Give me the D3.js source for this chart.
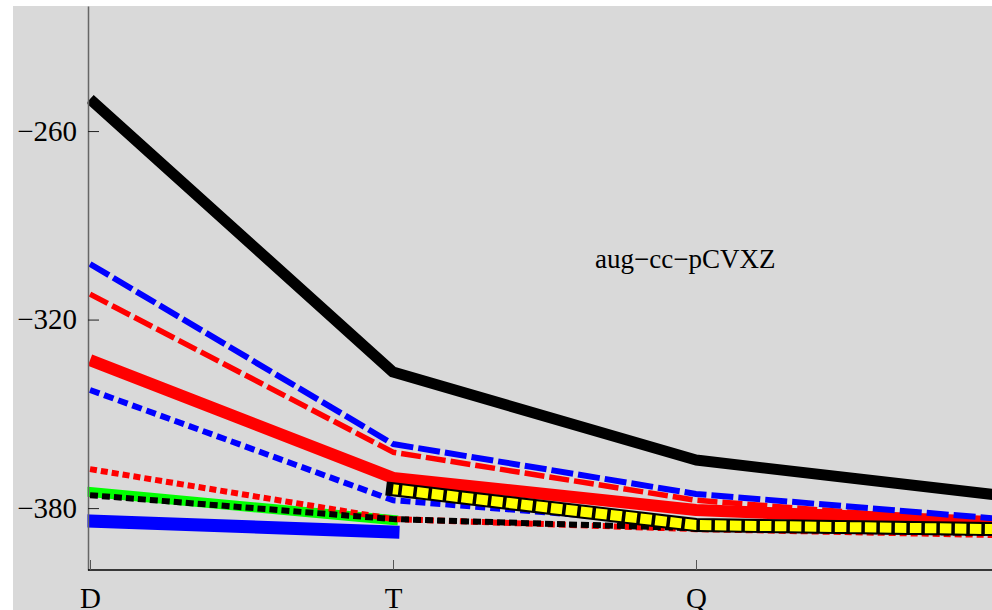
<!DOCTYPE html>
<html lang="en">
<head>
    <meta charset="UTF-8">
    <title>aug-cc-pCVXZ</title>
    <style>
        body{
            margin: 0;
            background: #fff;
        }
        svg{
            display: block;
        }
        .axis text{
            font-family: "Liberation Serif", serif;
            font-size: 29px;
            fill: #000;
        }
        .y .domain{
            stroke: #666;
            stroke-width: 1.5px;
        }
        .x .domain{
            stroke: #000;
            stroke-width: 1.3px;
        }
        .y .tick line{
            stroke: #222;
        }
        .x .tick line{
            stroke: #555;
        }
        .series{
            fill: none;
        }
        .label{
            font-family: "Liberation Serif", serif;
            font-size: 27px;
        }
    </style>
    <script src="https://cdn.jsdelivr.net/npm/d3@7"></script>
</head>
<body>
<script>

    // basis set cardinal numbers (5 lies just past the right edge)
    const categories = ["D", "T", "Q", "5"];
    const xTickLabels = ["D", "T", "Q"];
    const yTicks = [-260, -320, -380];

    // values, null = not computed
    const blackSolid   = [-249.8, -336.7, -364.7, -375.9];
    const redSolid     = [-332.9, -370.4, -380.6, -384.5];
    const blueSolid    = [-384.1, -387.6, null, null];
    const greenSolid   = [-374.9, -383.8, null, null];
    const redLongDash  = [-311.9, -362.2, -377.5, -385.0];
    const blueLongDash = [-302.3, -359.6, -375.5, -383.4];
    const redDot       = [-367.6, -383.5, -386.7, -388.6];
    const blueDot      = [-342.4, -377.5, -385.1, -386.4];
    const blackDot     = [-375.9, -383.5, -386.4, -388.0];
    const yellowBox    = [null, -374.0, -385.4, -386.7];

    const width = 992;
    const height = 610;
    const margins = {top: 6, bottom: 40, left: 88, right: 0};

    const svg = d3.select("body").append("svg")
        .attr("width", width)
        .attr("height", height)
        .attr("viewBox", `0,0,${width},${height}`);

    // gray panel
    svg.append("rect")
        .attr("x", 13).attr("y", 6)
        .attr("width", width - 13).attr("height", height - 6)
        .attr("fill", "#d9d9d9");

    const xScale = d3.scalePoint()
        .domain(categories)
        .range([90, 999]);

    const yScale = d3.scaleLinear()
        .domain([-399.7, -220.2])
        .range([height - margins.bottom, margins.top]);

    svg.append("clipPath").attr("id", "plotclip")
        .append("rect")
        .attr("x", 87.5).attr("y", 0)
        .attr("width", width).attr("height", height - margins.bottom);

    const plot = svg.append("g").attr("clip-path", "url(#plotclip)");

    const lineGen = d3.line()
        .defined(d => d.v !== null)
        .x(d => xScale(d.c))
        .y(d => yScale(d.v));

    const toPoints = vals => vals.map((v, i) => ({c: categories[i], v: v}));

    const seriesList = [
        {vals: blackSolid,   color: "#000",    w: 11},
        {vals: redSolid,     color: "#ff0000", w: 12},
        {vals: blueSolid,    color: "#0000ff", w: 13, cap: "square"},
        {vals: greenSolid,   color: "#00ff00", w: 10, cap: "square"},
        {vals: redLongDash,  color: "#ff0000", w: 5.5, dash: "20 5"},
        {vals: blueLongDash, color: "#0000ff", w: 6,   dash: "22 5"},
        {vals: redDot,       color: "#ff0000", w: 6,   dash: "7 4"},
        {vals: blueDot,      color: "#0000ff", w: 6,   dash: "10 5"},
        {vals: blackDot,     color: "#000",    w: 6,   dash: "8 4"},
        {vals: yellowBox,    color: "#000",    w: 14, cap: "square"},
        {vals: yellowBox,    color: "#ffff00", w: 10,  dash: "11.5 3.5", offset: 6}
    ];

    plot.selectAll("path.series")
        .data(seriesList)
        .enter()
        .append("path")
        .attr("class", "series")
        .attr("d", d => lineGen(toPoints(d.vals)))
        .attr("stroke", d => d.color)
        .attr("stroke-width", d => d.w)
        .attr("stroke-dasharray", d => d.dash || null)
        .attr("stroke-dashoffset", d => d.offset || 0)
        .attr("stroke-linecap", d => d.cap || "butt")
        .attr("stroke-linejoin", "round");

    // axes
    const yAxis = d3.axisLeft(yScale)
        .tickValues(yTicks)
        .tickFormat(d3.format("d"))
        .tickSizeInner(-11)
        .tickSizeOuter(0)
        .tickPadding(11);

    svg.append("g")
        .attr("class", "axis y")
        .attr("transform", `translate(${margins.left},0)`)
        .call(yAxis);

    const xAxis = d3.axisBottom(xScale)
        .tickValues(xTickLabels)
        .tickSizeInner(-10)
        .tickSizeOuter(0)
        .tickPadding(17);

    svg.append("g")
        .attr("class", "axis x")
        .attr("transform", `translate(0,${height - margins.bottom})`)
        .call(xAxis);

    // x axis line starts at the y axis
    svg.select(".x .domain").attr("d", `M${margins.left},0H${width}`);

    svg.append("text")
        .attr("class", "label")
        .attr("x", 595)
        .attr("y", 268)
        .text("aug\u2212cc\u2212pCVXZ");

</script>
</body>
</html>
